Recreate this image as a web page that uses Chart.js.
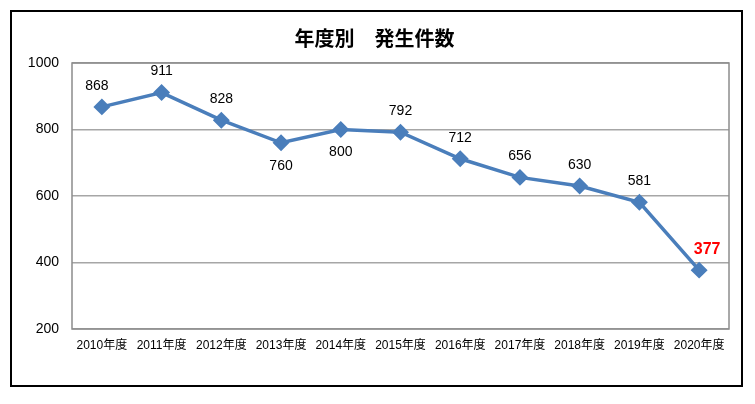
<!DOCTYPE html>
<html>
<head>
<meta charset="utf-8">
<script src="https://cdn.jsdelivr.net/npm/chart.js@4"></script>
<style>
  html, body { margin: 0; padding: 0; background: #fff; }
  #wrap { width: 755px; height: 404px; }
</style>
</head>
<body>
<div id="wrap"><canvas id="incidentChart" width="755" height="404"></canvas></div>
<script>
/* 年度別 発生件数 line chart */

const LINE_BLUE = '#4a7ebb';
const FONT = '"Liberation Sans", "Noto Sans CJK JP", sans-serif';

const years = ['2010年度', '2011年度', '2012年度', '2013年度', '2014年度', '2015年度',
  '2016年度', '2017年度', '2018年度', '2019年度', '2020年度'];
const counts = [868, 911, 828, 760, 800, 792, 712, 656, 630, 581, 377];
const labelSide = ['above', 'above', 'above', 'below', 'below', 'above',
  'above', 'above', 'above', 'above', 'above'];
const yTicks = [200, 400, 600, 800, 1000];

// outer frame + plot box
const framePlugin = {
  id: 'frame',
  beforeDraw(chart) {
    const { ctx } = chart;
    ctx.save();
    ctx.fillStyle = '#fff';
    ctx.fillRect(0, 0, chart.width, chart.height);
    ctx.strokeStyle = '#000';
    ctx.lineWidth = 2;
    ctx.strokeRect(11, 11, 731, 375);
    ctx.restore();
  },
  afterDraw(chart) {
    const { ctx, chartArea: a } = chart;
    ctx.save();
    ctx.strokeStyle = '#8c8c8c';
    ctx.lineWidth = 1.5;
    ctx.strokeRect(a.left, a.top, a.right - a.left, a.bottom - a.top);
    ctx.restore();
  },
};

// value labels next to each point
const valueLabels = {
  id: 'valueLabels',
  afterDatasetsDraw(chart) {
    const { ctx } = chart;
    const pts = chart.getDatasetMeta(0).data;
    ctx.save();
    ctx.textAlign = 'center';
    ctx.textBaseline = 'middle';
    pts.forEach((p, i) => {
      const last = i === counts.length - 1;
      ctx.font = (last ? 'bold 16px ' : '14px ') + FONT;
      ctx.fillStyle = last ? '#ff0000' : '#000';
      let dx = 0;
      if (i === 0) dx = -5;
      if (last) dx = 8;
      const dy = labelSide[i] === 'below' ? 23 : -21;
      ctx.fillText(String(counts[i]), p.x + dx, p.y + dy);
    });
    ctx.restore();
  },
};

new Chart(document.getElementById('incidentChart'), {
  type: 'line',
  data: {
    labels: years,
    datasets: [{
      data: counts,
      borderColor: LINE_BLUE,
      backgroundColor: LINE_BLUE,
      borderWidth: 3.5,
      pointStyle: 'rectRot',
      pointRadius: 6,
      pointBackgroundColor: LINE_BLUE,
      pointBorderColor: LINE_BLUE,
      tension: 0,
      fill: false,
    }],
  },
  options: {
    responsive: false,
    animation: false,
    layout: { padding: { left: 20, right: 26, top: 0, bottom: 45 } },
    plugins: {
      legend: { display: false },
      tooltip: { enabled: false },
      title: {
        display: true,
        text: '年度別　発生件数',
        color: '#000',
        font: { family: FONT, size: 20, weight: 'bold', lineHeight: 1.2 },
        padding: { top: 28, bottom: 11 },
      },
    },
    scales: {
      x: {
        offset: true,
        grid: { display: false, drawTicks: false },
        border: { display: false },
        ticks: {
          color: '#000',
          font: { family: FONT, size: 12 },
          padding: 9,
          maxRotation: 0,
          autoSkip: false,
        },
        afterFit(scale) { scale.height = 30; },
      },
      y: {
        min: 200,
        max: 1000,
        afterBuildTicks(scale) { scale.ticks = yTicks.map(v => ({ value: v })); },
        grid: { color: '#a6a6a6', lineWidth: 1.5, drawTicks: false },
        border: { display: false },
        ticks: {
          color: '#000',
          font: { family: FONT, size: 14 },
          padding: 13,
          callback: v => String(v),
        },
        afterFit(scale) { scale.width = 52; },
      },
    },
  },
  plugins: [framePlugin, valueLabels],
});
</script>
</body>
</html>
